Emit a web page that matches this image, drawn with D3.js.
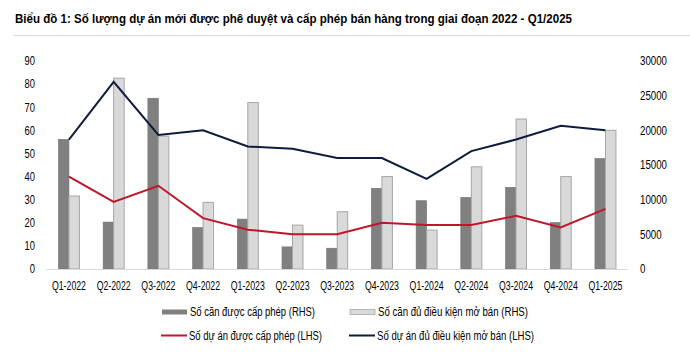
<!DOCTYPE html>
<html>
<head>
<meta charset="utf-8">
<script src="https://cdn.jsdelivr.net/npm/d3@7"></script>
<style>
  html, body { margin: 0; padding: 0; background: #fff; }
  svg { display: block; }
  text { font-family: "Liberation Sans", Arial, sans-serif; }
</style>
</head>
<body>
<svg id="chart" width="690" height="355"></svg>
<script>
const categories = ["Q1-2022","Q2-2022","Q3-2022","Q4-2022","Q1-2023","Q2-2023","Q3-2023","Q4-2023","Q1-2024","Q2-2024","Q3-2024","Q4-2024","Q1-2025"];
// RHS (units)
const unitsLicensed = [18700, 6770, 24630, 5990, 7200, 3190, 3000, 11640, 9850, 10330, 11780, 6710, 15940];
const unitsEligible = [10530, 27530, 19170, 9610, 24010, 6330, 8260, 13330, 5610, 14740, 21630, 13330, 20000];
// LHS (projects)
const projectsLicensed = [40, 29, 36, 22, 17, 15, 15, 20, 19, 19, 23, 18, 26];
const projectsEligible = [56, 81, 58, 60, 53, 52, 48, 48, 39, 51, 56, 62, 60];
const leftTicks = [0,10,20,30,40,50,60,70,80,90];
const rightTicks = [0,5000,10000,15000,20000,25000,30000];
const title = "Biểu đồ 1: Số lượng dự án mới được phê duyệt và cấp phép bán hàng trong giai đoạn 2022 - Q1/2025";
const legendItems = [
  {label: "Số căn được cấp phép (RHS)", type: "bar", color: "#808080"},
  {label: "Số căn đủ điều kiện mở bán (RHS)", type: "bar", color: "#d9d9d9", stroke: "#a6a6a6"},
  {label: "Số dự án được cấp phép (LHS)", type: "line", color: "#c0162c"},
  {label: "Số dự án đủ điều kiện mở bán (LHS)", type: "line", color: "#0d1b3d"}
];

const svg = d3.select("#chart");
const plotTop = 61, plotBottom = 269;

function condense(sel, factor) {
  sel.each(function() {
    const w = this.getComputedTextLength();
    d3.select(this).attr("textLength", w * factor).attr("lengthAdjust", "spacingAndGlyphs");
  });
}

const x = d3.scaleBand().domain(categories).range([46.6, 627.8]).padding(0);
const sub = d3.scaleBand().domain(["a","b"]).range([0, x.bandwidth()]).paddingInner(0).paddingOuter(1.13);
const yL = d3.scaleLinear().domain([0, 90]).range([plotBottom, plotTop]);
const yR = d3.scaleLinear().domain([0, 30000]).range([plotBottom, plotTop]);

// Title
svg.append("text").attr("x", 15).attr("y", 23)
  .attr("font-size", 13.5).attr("font-weight", "bold").attr("fill", "#000")
  .attr("textLength", 557).attr("lengthAdjust", "spacingAndGlyphs")
  .text(title);
svg.append("line").attr("x1", 13).attr("x2", 690).attr("y1", 35.5).attr("y2", 35.5)
  .attr("stroke", "#d9d9d9").attr("stroke-width", 1);

// Bars
const gBars = svg.append("g");
gBars.selectAll("rect.d").data(unitsLicensed).join("rect")
  .attr("x", (d,i) => x(categories[i]) + sub("a"))
  .attr("width", sub.bandwidth())
  .attr("y", d => yR(d)).attr("height", d => plotBottom - yR(d))
  .attr("fill", "#808080").attr("stroke", "#737373").attr("stroke-width", 0.6);
gBars.selectAll("rect.l").data(unitsEligible).join("rect")
  .attr("x", (d,i) => x(categories[i]) + sub("b"))
  .attr("width", sub.bandwidth())
  .attr("y", d => yR(d)).attr("height", d => plotBottom - yR(d))
  .attr("fill", "#d9d9d9").attr("stroke", "#a6a6a6").attr("stroke-width", 1);

// X axis line
svg.append("line").attr("x1", x.range()[0]).attr("x2", x.range()[1])
  .attr("y1", plotBottom + 0.5).attr("y2", plotBottom + 0.5).attr("stroke", "#d9d9d9");

// Lines
const cx = (d,i) => x(categories[i]) + x.bandwidth()/2;
const lineL = d3.line().x(cx).y(d => yL(d));
svg.append("path").datum(projectsLicensed).attr("d", lineL)
  .attr("fill", "none").attr("stroke", "#c0162c").attr("stroke-width", 2);
svg.append("path").datum(projectsEligible).attr("d", lineL)
  .attr("fill", "none").attr("stroke", "#0d1b3d").attr("stroke-width", 2);

// Left axis
const axL = d3.axisLeft(yL).tickValues(leftTicks).tickSize(0).tickPadding(0);
svg.append("g").attr("transform", "translate(35,0)").call(axL)
  .call(g => g.select(".domain").remove())
  .selectAll("text").attr("font-size", 12).attr("fill", "#000")
  .attr("font-family", "'Liberation Sans', Arial, sans-serif")
  .call(condense, 0.78);

// Right axis
const axR = d3.axisRight(yR).tickValues(rightTicks).tickFormat(d3.format("d")).tickSize(0).tickPadding(0);
svg.append("g").attr("transform", "translate(640,0)").call(axR)
  .call(g => g.select(".domain").remove())
  .selectAll("text").attr("font-size", 12).attr("fill", "#000")
  .attr("font-family", "'Liberation Sans', Arial, sans-serif")
  .call(condense, 0.81);

// X axis labels
const axX = d3.axisBottom(x).tickSize(0).tickPadding(0);
svg.append("g").attr("transform", `translate(0,${plotBottom + 12})`).call(axX)
  .call(g => g.select(".domain").remove())
  .selectAll("text").attr("font-size", 12).attr("fill", "#000")
  .attr("font-family", "'Liberation Sans', Arial, sans-serif")
  .attr("textLength", 34).attr("lengthAdjust", "spacingAndGlyphs");

// Legend
const legPos = [[162, 312], [350, 312], [161, 335.5], [349, 335.5]];
const legWidths = [125, 150, 133, 157];
const gLeg = svg.append("g");
legendItems.forEach((it, i) => {
  const [lx, ly] = legPos[i];
  if (it.type === "bar") {
    gLeg.append("rect").attr("x", lx).attr("y", ly - 2.5).attr("width", 25).attr("height", 5)
      .attr("fill", it.color).attr("stroke", it.stroke || "none").attr("stroke-width", 0.8);
  } else {
    gLeg.append("line").attr("x1", lx).attr("x2", lx + 26).attr("y1", ly).attr("y2", ly)
      .attr("stroke", it.color).attr("stroke-width", 2);
  }
  gLeg.append("text").attr("x", lx + 28).attr("y", ly + 4)
    .attr("font-size", 12).attr("fill", "#000")
    .attr("textLength", legWidths[i]).attr("lengthAdjust", "spacingAndGlyphs")
    .text(it.label);
});
</script>
</body>
</html>
